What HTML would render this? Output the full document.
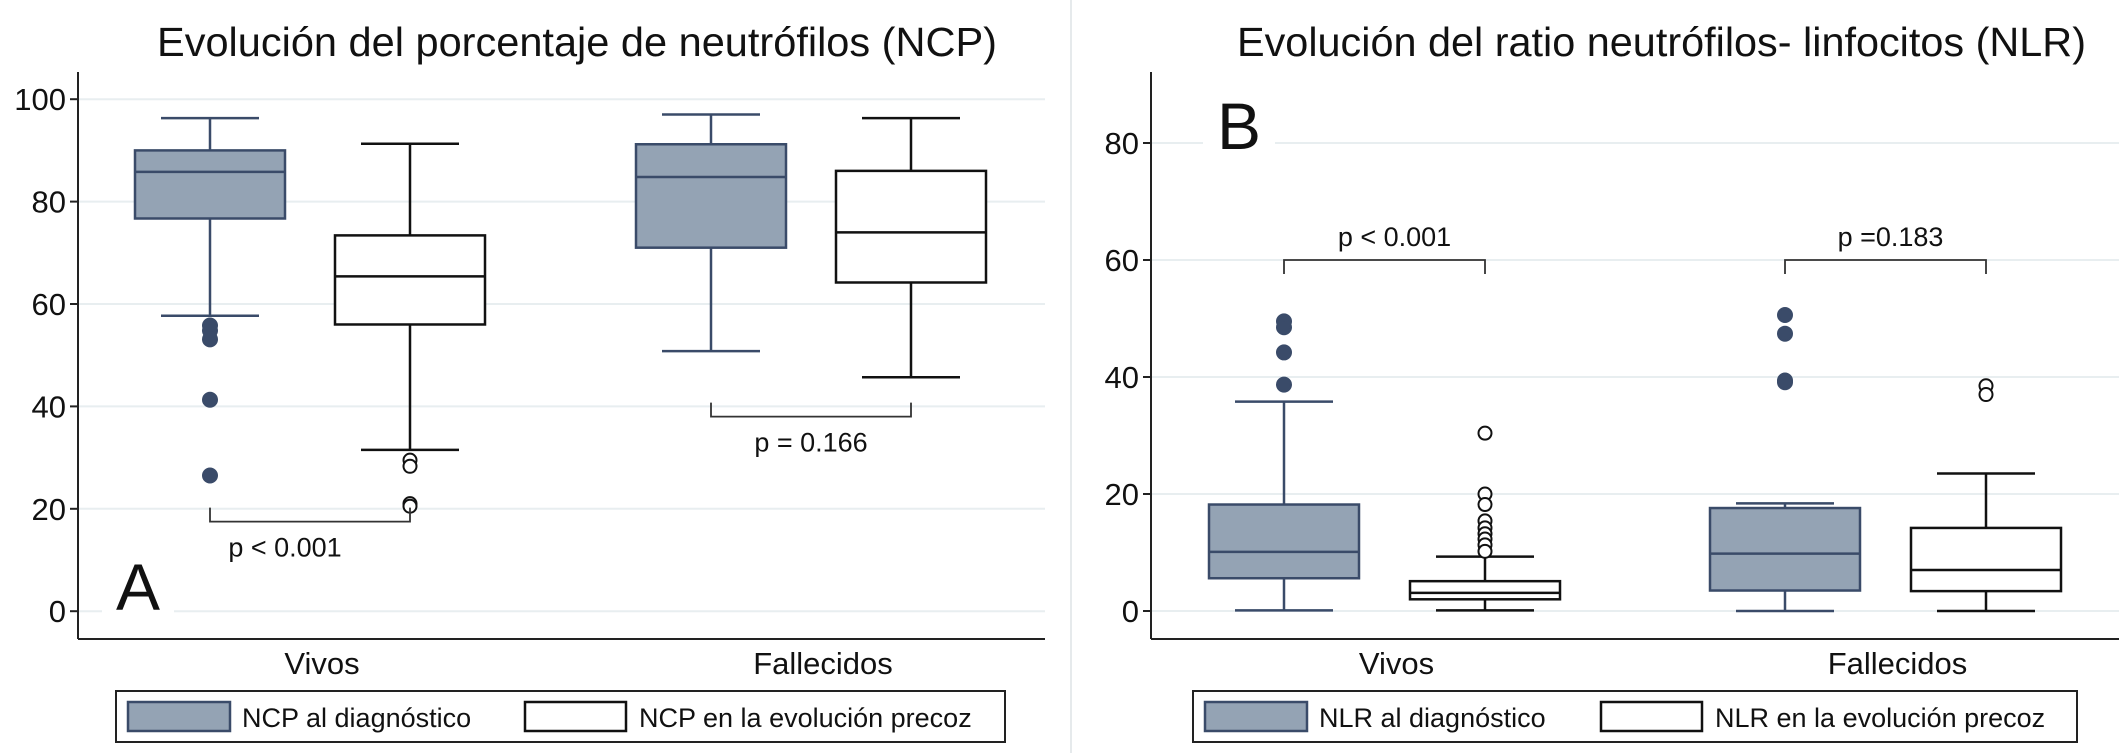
<!DOCTYPE html>
<html><head><meta charset="utf-8"><style>
html,body{margin:0;padding:0;background:#fff}
svg{display:block}
text{font-family:"Liberation Sans",Arial,sans-serif;fill:#111}
</style></head><body>
<svg id="chart" width="2119" height="753" viewBox="0 0 2119 753">
<rect x="0" y="0" width="2119" height="753" fill="#fff"/>
<line x1="1071" y1="0" x2="1071" y2="753" stroke="#e6eaec" stroke-width="2"/>
</svg>
<script>
// Panel A data (NCP)
const categoriesA = ["Vivos", "Fallecidos"];
const diagA = [[57.7, 76.7, 85.8, 90.0, 96.3], [50.8, 71.0, 84.8, 91.2, 97.0]];
const evolA = [[31.5, 56.0, 65.4, 73.4, 91.3], [45.7, 64.2, 74.0, 86.0, 96.3]];
const diagOutA = [[55.8, 54.8, 53.1, 41.3, 26.5], []];
const evolOutA = [[29.5, 28.3, 21.0, 20.5], []];
const ticksA = [0, 20, 40, 60, 80, 100];
const pA = ["p < 0.001", "p = 0.166"];
const bracketA = [17.5, 38.0];
// Panel B data (NLR)
const categoriesB = ["Vivos", "Fallecidos"];
const diagB = [[0.1, 5.6, 10.1, 18.2, 35.8], [0.0, 3.5, 9.8, 17.6, 18.4]];
const evolB = [[0.1, 2.0, 3.1, 5.1, 9.3], [0.0, 3.4, 7.0, 14.2, 23.5]];
const diagOutB = [[49.5, 48.5, 44.2, 38.7], [50.6, 47.4, 39.4, 39.1]];
const evolOutB = [[30.4, 20.0, 18.2, 15.4, 14.2, 13.2, 12.3, 11.3, 10.2], [38.5, 37.0]];
const ticksB = [0, 20, 40, 60, 80];
const pB = ["p < 0.001", "p =0.183"];
const bracketB = [60, 60];

const NS = "http://www.w3.org/2000/svg";
const svg = document.getElementById("chart");
function mk(tag, attrs, parent) {
  const e = document.createElementNS(NS, tag);
  for (const k in attrs) e.setAttribute(k, attrs[k]);
  (parent || svg).appendChild(e);
  return e;
}
const GRAY = "#94a3b4", DARK = "#3a4b69";

function panel(cfg) {
  const g = mk("g", {});
  
  
  const y = v => cfg.y0 - (v - 0) * cfg.pxPer;
  cfg.ticks.forEach(t => {
    const gl = mk("line", {x1: cfg.axisX, x2: cfg.gridR, y1: y(t), y2: y(t), stroke: "#e8eef0", "stroke-width": 2}, g);
    
    
    const tk = mk("line", {x1: cfg.axisX - 8, x2: cfg.axisX, y1: y(t), y2: y(t), stroke: "#222", "stroke-width": 2}, g);
    
    
    const tl = mk("text", {x: cfg.axisX - 12, y: y(t) + 11, "text-anchor": "end", "font-size": 31}, g);
    tl.textContent = t;
    
    
  });
  mk("rect", {x: cfg.letterX - 14, y: cfg.letterY - 56, width: 72, height: 66, fill: "#fff"}, g);
  const L = mk("text", {x: cfg.letterX, y: cfg.letterY, "font-size": 66}, g);
  L.textContent = cfg.letter;
  
  
  const ya = mk("line", {x1: cfg.axisX, x2: cfg.axisX, y1: 72, y2: 639, stroke: "#222", "stroke-width": 2}, g);
  
  
  const xa = mk("line", {x1: cfg.axisX, x2: cfg.gridR, y1: 639, y2: 639, stroke: "#222", "stroke-width": 2}, g);
  
  
  const tt = mk("text", {x: cfg.titleX, y: 56, "font-size": 41, textLength: cfg.titleW, lengthAdjust: "spacingAndGlyphs"}, g);
  tt.textContent = cfg.title;
  
  

  function box(st, cx, fill, stroke, name) {
    const hw = 75, cw = 49;
    const bg = mk("g", {}, g);
    
    
    mk("line", {x1: cx, x2: cx, y1: y(st[0]), y2: y(st[1]), stroke, "stroke-width": 2.5}, bg);
    mk("line", {x1: cx, x2: cx, y1: y(st[3]), y2: y(st[4]), stroke, "stroke-width": 2.5}, bg);
    mk("line", {x1: cx - cw, x2: cx + cw, y1: y(st[0]), y2: y(st[0]), stroke, "stroke-width": 2.5}, bg);
    mk("line", {x1: cx - cw, x2: cx + cw, y1: y(st[4]), y2: y(st[4]), stroke, "stroke-width": 2.5}, bg);
    mk("rect", {x: cx - hw, y: y(st[3]), width: 2 * hw, height: y(st[1]) - y(st[3]), fill, stroke, "stroke-width": 2.5}, bg);
    mk("line", {x1: cx - hw, x2: cx + hw, y1: y(st[2]), y2: y(st[2]), stroke, "stroke-width": 2.5}, bg);
  }
  function outs(arr, cx, filled) {
    arr.forEach(v => {
      const c = mk("circle", {cx, cy: y(v), r: filled ? 7 : 6.5, fill: filled ? DARK : "#fff", stroke: filled ? DARK : "#111", "stroke-width": 2}, g);
      
      
    });
  }
  cfg.cats.forEach((cat, i) => {
    const c1 = cfg.centers[i][0], c2 = cfg.centers[i][1];
    box(cfg.diag[i], c1, GRAY, DARK, "box-diagnostico-" + i);
    box(cfg.evol[i], c2, "#fff", "#111", "box-evolucion-" + i);
    outs(cfg.diagOut[i], c1, true);
    outs(cfg.evolOut[i], c2, false);
    const cl = mk("text", {x: (c1 + c2) / 2 + 12, y: 674, "text-anchor": "middle", "font-size": 31}, g);
    cl.textContent = cat;
    
    
    const by = y(cfg.bracket[i]);
    const dir = cfg.bracketUp ? 1 : -1;
    const br = mk("path", {d: `M${c1} ${by + dir * 14} L${c1} ${by} L${c2} ${by} L${c2} ${by + dir * 14}`, fill: "none", stroke: "#333", "stroke-width": 1.8}, g);
    
    
    const pt = mk("text", {x: (c1 + c2) / 2 + cfg.pOff[i], y: cfg.bracketUp ? by - 14 : by + 35, "text-anchor": "middle", "font-size": 27}, g);
    pt.textContent = cfg.p[i];
    
    
  });
  const lg = mk("g", {}, g);
  
  
  mk("rect", {x: cfg.leg.x, y: 691, width: cfg.leg.w, height: 51, fill: "#fff", stroke: "#222", "stroke-width": 2}, lg);
  mk("rect", {x: cfg.leg.s1, y: 702, width: 102, height: 29, fill: GRAY, stroke: DARK, "stroke-width": 2.5}, lg);
  const t1 = mk("text", {x: cfg.leg.s1 + 114, y: 727, "font-size": 27}, lg);
  t1.textContent = cfg.leg.l1;
  
  
  mk("rect", {x: cfg.leg.s2, y: 702, width: 101, height: 29, fill: "#fff", stroke: "#111", "stroke-width": 2.5}, lg);
  const t2 = mk("text", {x: cfg.leg.s2 + 114, y: 727, "font-size": 27}, lg);
  t2.textContent = cfg.leg.l2;
  
  
}

panel({name: "panel-a-ncp", axisX: 78, gridR: 1045, y0: 611.2, pxPer: 5.12, ticks: ticksA,
  title: "Evolución del porcentaje de neutrófilos (NCP)", titleX: 157, titleW: 840,
  letter: "A", letterX: 116, letterY: 610,
  cats: categoriesA, centers: [[210, 410], [711, 911]],
  diag: diagA, evol: evolA, diagOut: diagOutA, evolOut: evolOutA,
  bracket: bracketA, bracketUp: false, p: pA, pOff: [-25, 0],
  leg: {x: 116, w: 889, s1: 128, s2: 525, l1: "NCP al diagnóstico", l2: "NCP en la evolución precoz"}});

panel({name: "panel-b-nlr", axisX: 1151, gridR: 2119, y0: 611, pxPer: 5.85, ticks: ticksB,
  title: "Evolución del ratio neutrófilos- linfocitos (NLR)", titleX: 1237, titleW: 849,
  letter: "B", letterX: 1217, letterY: 149,
  cats: categoriesB, centers: [[1284, 1485], [1785, 1986]],
  diag: diagB, evol: evolB, diagOut: diagOutB, evolOut: evolOutB,
  bracket: bracketB, bracketUp: true, p: pB, pOff: [10, 5],
  leg: {x: 1193, w: 884, s1: 1205, s2: 1601, l1: "NLR al diagnóstico", l2: "NLR en la evolución precoz"}});
</script>
</body></html>
